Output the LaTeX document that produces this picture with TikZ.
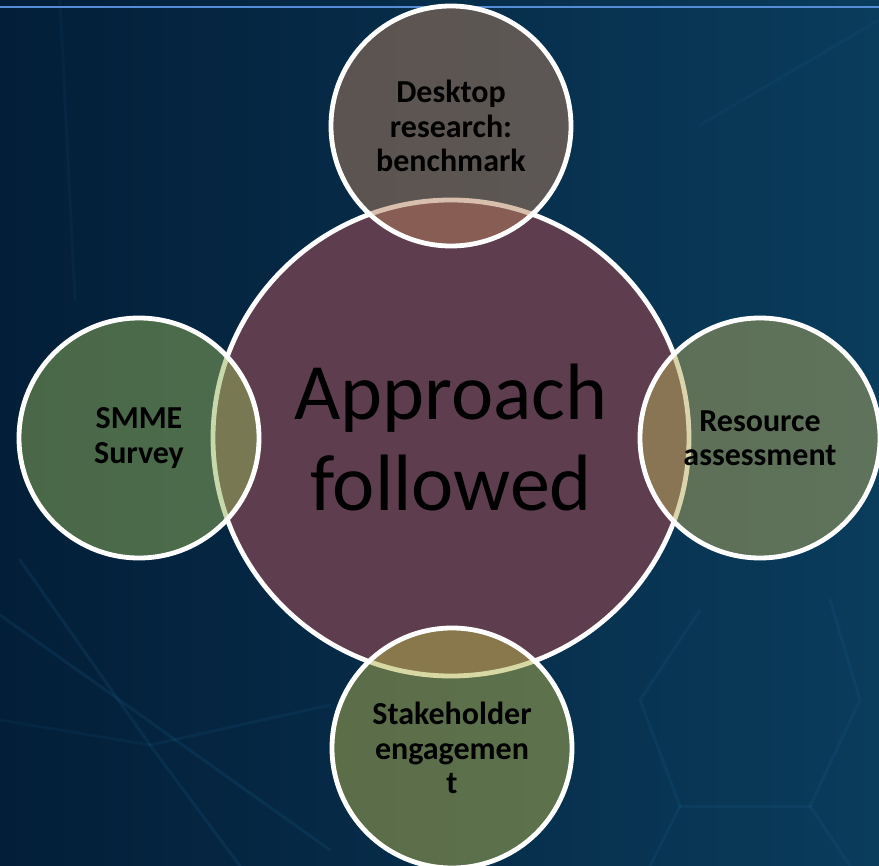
\documentclass[tikz,border=0pt]{standalone}
\usepackage{fontspec}
\setmainfont{Carlito}
\definecolor{bgA}{RGB}{3,30,56}
\definecolor{bgB}{RGB}{10,60,92}
\definecolor{topline}{RGB}{84,140,215}
\definecolor{streak}{RGB}{40,125,175}
\definecolor{hubfill}{RGB}{94,62,78}
\definecolor{topfill}{RGB}{178,126,91}
\definecolor{rightfill}{RGB}{180,170,91}
\definecolor{botfill}{RGB}{178,178,75}
\definecolor{leftfill}{RGB}{146,178,87}
\tikzset{
  hub/.style={circle, draw=white, line width=4.8pt, fill=hubfill, minimum size=476pt, inner sep=0pt,
    align=center, font=\fontsize{80}{91}\selectfont, text=black},
  sat/.style={circle, draw=white, line width=4.8pt, fill opacity=0.5, draw opacity=1, text opacity=1,
    minimum size=240pt, inner sep=0pt, align=center, font=\bfseries\fontsize{32}{34.5}\selectfont, text=black},
  faint/.style={draw=streak, line width=3pt, opacity=0.13, line cap=round}
}
\begin{document}
\begin{tikzpicture}[x=1pt,y=-1pt]
\useasboundingbox (0,0) rectangle (879,866);
\shade[left color=bgA, right color=bgB] (0,0) rectangle (879,866);
% faint background decoration
\draw[faint] (0,615) -- (330,850);
\draw[faint] (20,560) -- (150,745) -- (240,866);
\draw[faint, opacity=0.1] (150,745) -- (330,705);
\draw[faint, opacity=0.08] (0,720) -- (150,745);
\draw[faint, opacity=0.1] (680,806) -- (810,806);
\draw[faint, opacity=0.1] (680,806) -- (640,700) -- (700,610);
\draw[faint, opacity=0.1] (810,806) -- (860,700) -- (830,600);
\draw[faint, opacity=0.1] (680,806) -- (650,866);
\draw[faint, opacity=0.1] (810,806) -- (850,866);
\draw[faint, opacity=0.08] (700,125) -- (879,20);
\draw[faint, opacity=0.07] (60,0) -- (75,300);
\draw[topline, line width=2pt] (0,7.5) -- (879,7.5);
% circles
\node[hub] (hub) at (451,438) {Approach\\followed};
\node[sat, fill=topfill] (desk) at (451,126) {Desktop\\research:\\benchmark};
\node[sat, fill=rightfill] (res) at (760,438) {Resource\\assessment};
\node[sat, fill=botfill] (stake) at (452,748) {Stakeholder\\engagemen\\t};
\node[sat, fill=leftfill] (smme) at (139,438) {SMME\\Survey};
\end{tikzpicture}
\end{document}
